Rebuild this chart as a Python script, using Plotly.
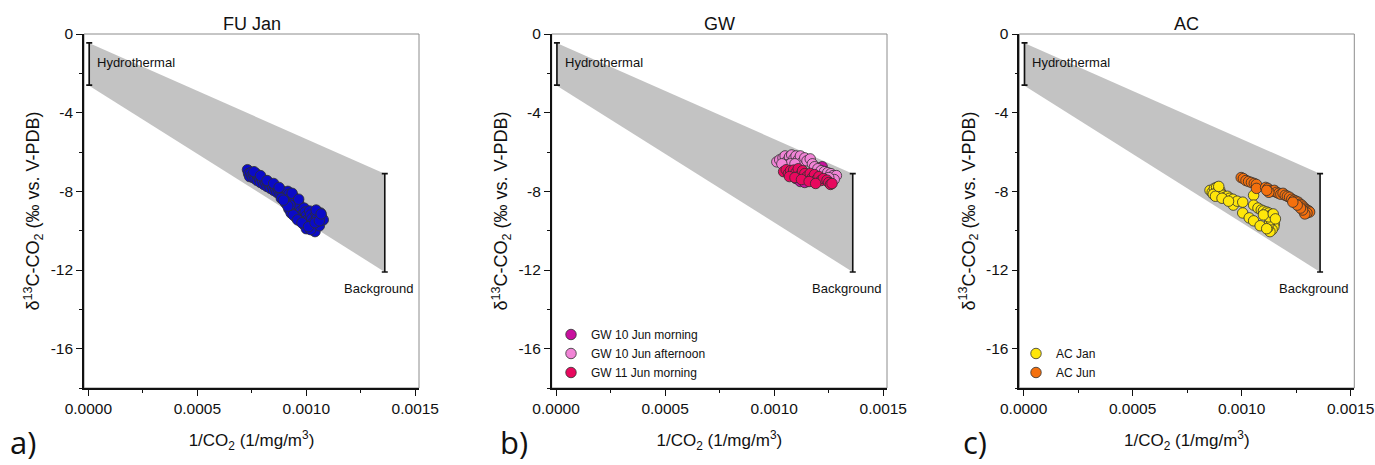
import plotly.graph_objects as go

# ---------------- data ----------------
PANEL_TITLES = ["FU Jan", "GW", "AC"]
PANEL_LETTERS = ["a)", "b)", "c)"]
X_TICK_VALUES = [0.0, 0.0005, 0.0010, 0.0015]
X_TICK_LABELS = ["0.0000", "0.0005", "0.0010", "0.0015"]
Y_TICK_VALUES = [0, -4, -8, -12, -16]
Y_TICK_LABELS = ["0", "-4", "-8", "-12", "-16"]

# mixing area between the two end members
MIX_X = [0.0, 0.00136, 0.00136, 0.0]
MIX_Y = [-0.45, -7.1, -12.1, -2.6]
END_MEMBER_NAMES = ["Hydrothermal", "Background"]
END_MEMBER_X = [0.000004, 0.00136]
END_MEMBER_HIGH = [-0.45, -7.1]
END_MEMBER_LOW = [-2.6, -12.1]

# FU Jan
FU_JAN_X = [0.730, 0.735, 0.740, 0.745, 0.750, 0.755, 0.760, 0.765, 0.770, 0.775,
            0.780, 0.785, 0.790, 0.795, 0.800, 0.805, 0.810, 0.815, 0.820, 0.825,
            0.830, 0.835, 0.840, 0.845, 0.850, 0.855, 0.860, 0.865, 0.870, 0.875,
            0.880, 0.885, 0.890, 0.895, 0.900, 0.905, 0.910, 0.915, 0.920, 0.925,
            0.930, 0.935, 0.940, 0.945, 0.950, 0.955, 0.960, 0.965, 0.970, 0.975,
            0.980, 0.985, 0.990, 0.995, 1.000, 1.005, 1.010, 1.015, 1.020, 1.025,
            1.030, 1.035, 1.040, 1.045, 1.050, 1.055, 1.060, 1.065, 1.070, 1.078,
            0.920, 0.930, 0.950, 0.970, 0.990, 1.000, 1.020, 0.940, 0.960, 0.925,
            0.905, 0.915, 0.885, 0.895, 0.980, 1.010, 1.040, 1.060, 0.760, 0.790,
            0.820, 0.850, 0.875, 0.935, 0.965, 1.045, 1.068]
FU_JAN_Y = [-6.90, -7.10, -7.25, -7.05, -7.20, -7.30, -7.15, -7.35, -7.10, -7.45,
            -7.25, -7.40, -7.55, -7.35, -7.50, -7.65, -7.45, -7.60, -7.75, -7.55,
            -7.70, -7.85, -7.65, -7.80, -7.95, -7.75, -7.90, -8.05, -7.85, -8.00,
            -8.15, -7.95, -8.10, -8.30, -8.05, -8.20, -8.45, -8.00, -8.15, -8.35,
            -8.55, -8.75, -8.25, -8.50, -8.70, -8.90, -9.10, -8.60, -8.80, -9.00,
            -9.20, -9.40, -8.85, -9.05, -9.25, -9.45, -9.65, -9.00, -9.20, -9.40,
            -9.60, -9.80, -10.05, -9.15, -9.35, -9.55, -9.75, -9.10, -9.30, -9.45,
            -8.90, -9.10, -9.30, -9.50, -9.70, -9.90, -9.95, -9.20, -9.45, -8.70,
            -8.60, -8.75, -8.35, -8.45, -9.60, -9.80, -9.60, -9.50, -7.00, -7.20,
            -7.45, -7.60, -7.80, -8.10, -8.40, -8.95, -9.15]

# GW
GW10M_X = [1.060, 1.080, 1.100, 1.120, 1.130, 1.150, 1.170, 1.190, 1.210, 1.220,
           1.200, 1.180, 1.160, 1.140, 1.230, 1.250, 1.110, 1.090]
GW10M_Y = [-7.00, -7.20, -7.35, -7.50, -7.40, -7.30, -7.20, -7.00, -6.80, -6.75,
           -7.10, -7.35, -7.45, -7.55, -7.00, -7.40, -7.25, -7.05]
GW10A_X = [1.012, 1.025, 1.040, 1.050, 1.060, 1.070, 1.080, 1.090, 1.100, 1.110,
           1.120, 1.130, 1.140, 1.150, 1.165, 1.175, 1.185, 1.200, 1.215, 1.230,
           1.245, 1.260, 1.270, 1.285, 1.275, 1.250, 1.055, 1.075, 1.095, 1.035]
GW10A_Y = [-6.50, -6.40, -6.30, -6.20, -6.45, -6.25, -6.15, -6.35, -6.20, -6.40,
           -6.20, -6.50, -6.30, -6.45, -6.35, -6.60, -6.75, -6.85, -6.95, -7.00,
           -7.05, -7.10, -7.20, -7.20, -7.40, -7.30, -6.65, -6.60, -6.60, -6.60]
GW11M_X = [1.043, 1.055, 1.065, 1.075, 1.089, 1.100, 1.110, 1.120, 1.130, 1.140,
           1.150, 1.165, 1.175, 1.185, 1.195, 1.205, 1.215, 1.225, 1.242, 1.250,
           1.258, 1.265, 1.070, 1.095, 1.125, 1.160, 1.190]
GW11M_Y = [-7.00, -6.90, -7.10, -6.95, -6.92, -7.05, -6.85, -7.15, -6.95, -7.10,
           -7.25, -7.09, -7.30, -7.15, -7.40, -7.25, -7.45, -7.35, -7.43, -7.55,
           -7.65, -7.60, -7.25, -7.30, -7.40, -7.50, -7.60]

# AC
AC_JAN_X = [0.855, 0.865, 0.875, 0.885, 0.890, 0.895, 0.900, 0.905, 0.915, 0.925,
            0.935, 0.945, 0.960, 0.962, 0.980, 1.005, 1.055, 1.055, 1.075, 1.090,
            1.100, 1.115, 1.125, 1.135, 1.140, 1.145, 1.150, 1.148, 1.140, 1.130,
            1.120, 1.128, 1.135, 1.125, 1.005, 1.035, 1.055, 1.085, 1.115, 1.100,
            1.145, 1.155, 0.870, 0.880, 0.895, 0.910, 0.940]
AC_JAN_Y = [-7.95, -8.05, -7.85, -7.80, -8.00, -8.15, -7.95, -8.10, -8.20, -8.30,
            -8.25, -8.35, -8.40, -8.70, -8.50, -8.55, -8.20, -8.70, -8.85, -8.95,
            -9.00, -9.05, -9.10, -9.20, -9.35, -9.50, -9.65, -9.80, -9.95, -10.05,
            -9.85, -9.60, -9.45, -9.30, -9.10, -9.35, -9.50, -9.75, -9.90, -9.20,
            -9.15, -9.40, -8.15, -8.25, -7.75, -8.35, -8.50]
AC_JUN_X = [0.998, 1.008, 1.020, 1.032, 1.045, 1.058, 1.068, 1.068, 1.110, 1.120,
            1.130, 1.140, 1.150, 1.160, 1.170, 1.180, 1.190, 1.200, 1.210, 1.220,
            1.230, 1.240, 1.250, 1.260, 1.268, 1.276, 1.284, 1.292, 1.300, 1.308,
            1.312, 1.300, 1.290, 1.280, 1.270, 1.255, 1.235, 1.125, 1.115]
AC_JUN_Y = [-7.30, -7.35, -7.45, -7.50, -7.55, -7.60, -7.65, -7.85, -7.80, -7.85,
            -7.95, -8.00, -7.95, -8.05, -8.10, -8.15, -8.10, -8.20, -8.25, -8.30,
            -8.40, -8.45, -8.50, -8.55, -8.65, -8.70, -8.80, -8.90, -8.95, -9.00,
            -9.05, -9.10, -9.15, -8.95, -8.85, -8.70, -8.55, -8.05, -7.95]

X_SCALE = 1e-3  # the x lists above are in units of 1e-3 (1/mg/m3)

# series: panel index, name, x, y, colour
SERIES = [
    (0, "FU Jan", FU_JAN_X, FU_JAN_Y, "#0A0AC8"),
    (1, "GW 10 Jun morning", GW10M_X, GW10M_Y, "#C8109E"),
    (1, "GW 10 Jun afternoon", GW10A_X, GW10A_Y, "#F184D6"),
    (1, "GW 11 Jun morning", GW11M_X, GW11M_Y, "#E8085E"),
    (2, "AC Jan", AC_JAN_X, AC_JAN_Y, "#FFE60A"),
    (2, "AC Jun", AC_JUN_X, AC_JUN_Y, "#F4700E"),
]

# ---------------- layout ----------------
W, H = 1375, 465
X_DOMAINS = [(84 / W, 419 / W), (551.7 / W, 887 / W), (1019.3 / W, 1354.3 / W)]
Y_DOMAIN = (1 - 388 / H, 1 - 34 / H)
FONT = "Liberation Sans, Arial, sans-serif"

fig = go.Figure()

for p in range(3):
    xa = "x" if p == 0 else f"x{p + 1}"
    ya = "y" if p == 0 else f"y{p + 1}"
    # mixing area
    fig.add_trace(go.Scatter(x=MIX_X, y=MIX_Y, mode="lines", fill="toself",
                             fillcolor="#C3C3C3", line=dict(width=0),
                             hoverinfo="skip", showlegend=False, xaxis=xa, yaxis=ya))
    # end member bars
    mids = [(h + l) / 2 for h, l in zip(END_MEMBER_HIGH, END_MEMBER_LOW)]
    halves = [(h - l) / 2 for h, l in zip(END_MEMBER_HIGH, END_MEMBER_LOW)]
    fig.add_trace(go.Scatter(x=END_MEMBER_X, y=mids, mode="markers",
                             marker=dict(size=1, color="rgba(0,0,0,0)"),
                             error_y=dict(type="data", array=halves, visible=True,
                                          color="#111111", thickness=1.6, width=3),
                             hoverinfo="skip", showlegend=False, xaxis=xa, yaxis=ya))

legend_names = {1: "legend2", 2: "legend3"}
for p, name, xs, ys, col in SERIES:
    xa = "x" if p == 0 else f"x{p + 1}"
    ya = "y" if p == 0 else f"y{p + 1}"
    fig.add_trace(go.Scatter(
        x=[v * X_SCALE for v in xs], y=ys, mode="markers", name=name,
        marker=dict(size=10.5, color=col, line=dict(color="#303030", width=0.8)),
        showlegend=(p != 0), legend=legend_names.get(p, "legend"),
        xaxis=xa, yaxis=ya))

layout = dict(
    width=W, height=H, margin=dict(l=0, r=0, t=0, b=0, autoexpand=False),
    template="none",
    paper_bgcolor="white", plot_bgcolor="white",
    font=dict(family=FONT, size=15, color="#111111"),
    showlegend=True,
)

annotations = []
shapes = []
for p in range(3):
    sx = "" if p == 0 else str(p + 1)
    layout["xaxis" + sx] = dict(
        domain=list(X_DOMAINS[p]), anchor="y" + sx, range=[-0.00002, 0.001517],
        automargin=False,
        tickmode="array", tickvals=X_TICK_VALUES, ticktext=X_TICK_LABELS,
        ticks="outside", ticklen=6, tickwidth=1.2, tickcolor="#111111",
        minor=dict(dtick=0.00025, tick0=0, ticks="outside", ticklen=3,
                   tickwidth=1.2, tickcolor="#111111"),
        showline=True, linecolor="#111111", linewidth=1.6, mirror=False,
        showgrid=False, zeroline=False,
        tickfont=dict(size=15.5),
        title=dict(text="1/CO<sub>2</sub> (1/mg/m<sup>3</sup>)",
                   font=dict(size=17), standoff=18),
    )
    layout["yaxis" + sx] = dict(
        domain=list(Y_DOMAIN), anchor="x" + sx, range=[-18, 0],
        automargin=False,
        tickmode="array", tickvals=Y_TICK_VALUES, ticktext=Y_TICK_LABELS,
        ticks="outside", ticklen=6, tickwidth=1.2, tickcolor="#111111",
        minor=dict(dtick=2, tick0=0, ticks="outside", ticklen=3,
                   tickwidth=1.2, tickcolor="#111111"),
        showline=True, linecolor="#111111", linewidth=1.6, mirror=False,
        showgrid=False, zeroline=False,
        tickfont=dict(size=15.5),
        title=dict(text="δ<sup>13</sup>C-CO<sub>2</sub> (‰ vs. V-PDB)",
                   font=dict(size=18), standoff=6),
    )
    # grey frame (top / right)
    shapes.append(dict(type="rect", xref=f"x{sx} domain", yref=f"y{sx} domain",
                       x0=0, x1=1, y0=0, y1=1, line=dict(color="#8C8C8C", width=1),
                       layer="below"))
    # titles
    annotations.append(dict(text=PANEL_TITLES[p], xref=f"x{sx} domain", yref="paper",
                            x=0.5, y=1 - 24 / H, xanchor="center", yanchor="middle",
                            showarrow=False, font=dict(size=18)))
    # end member labels
    annotations.append(dict(text=END_MEMBER_NAMES[0], xref="x" + sx, yref="y" + sx,
                            x=0.00003, y=-1.45, xanchor="left", yanchor="middle",
                            showarrow=False, font=dict(size=13)))
    annotations.append(dict(text=END_MEMBER_NAMES[1], xref="x" + sx, yref="y" + sx,
                            x=0.00133, y=-12.95, xanchor="center", yanchor="middle",
                            showarrow=False, font=dict(size=13)))

LETTER_X = [8, 498, 961]
for p in range(3):
    annotations.append(dict(text=PANEL_LETTERS[p], xref="paper", yref="paper",
                            x=LETTER_X[p] / W, y=0, xanchor="left", yanchor="bottom",
                            showarrow=False,
                            font=dict(family="Open Sans, sans-serif", size=31, color="#111111")))

layout["annotations"] = annotations
layout["shapes"] = shapes
layout["legend2"] = dict(x=551 / W, xanchor="left", y=1 - 387 / H, yanchor="bottom",
                         bgcolor="rgba(0,0,0,0)", font=dict(size=12), itemwidth=30)
layout["legend3"] = dict(x=1016 / W, xanchor="left", y=1 - 387 / H, yanchor="bottom",
                         bgcolor="rgba(0,0,0,0)", font=dict(size=12), itemwidth=30)

fig.update_layout(**layout)
fig.write_html("out.html")
